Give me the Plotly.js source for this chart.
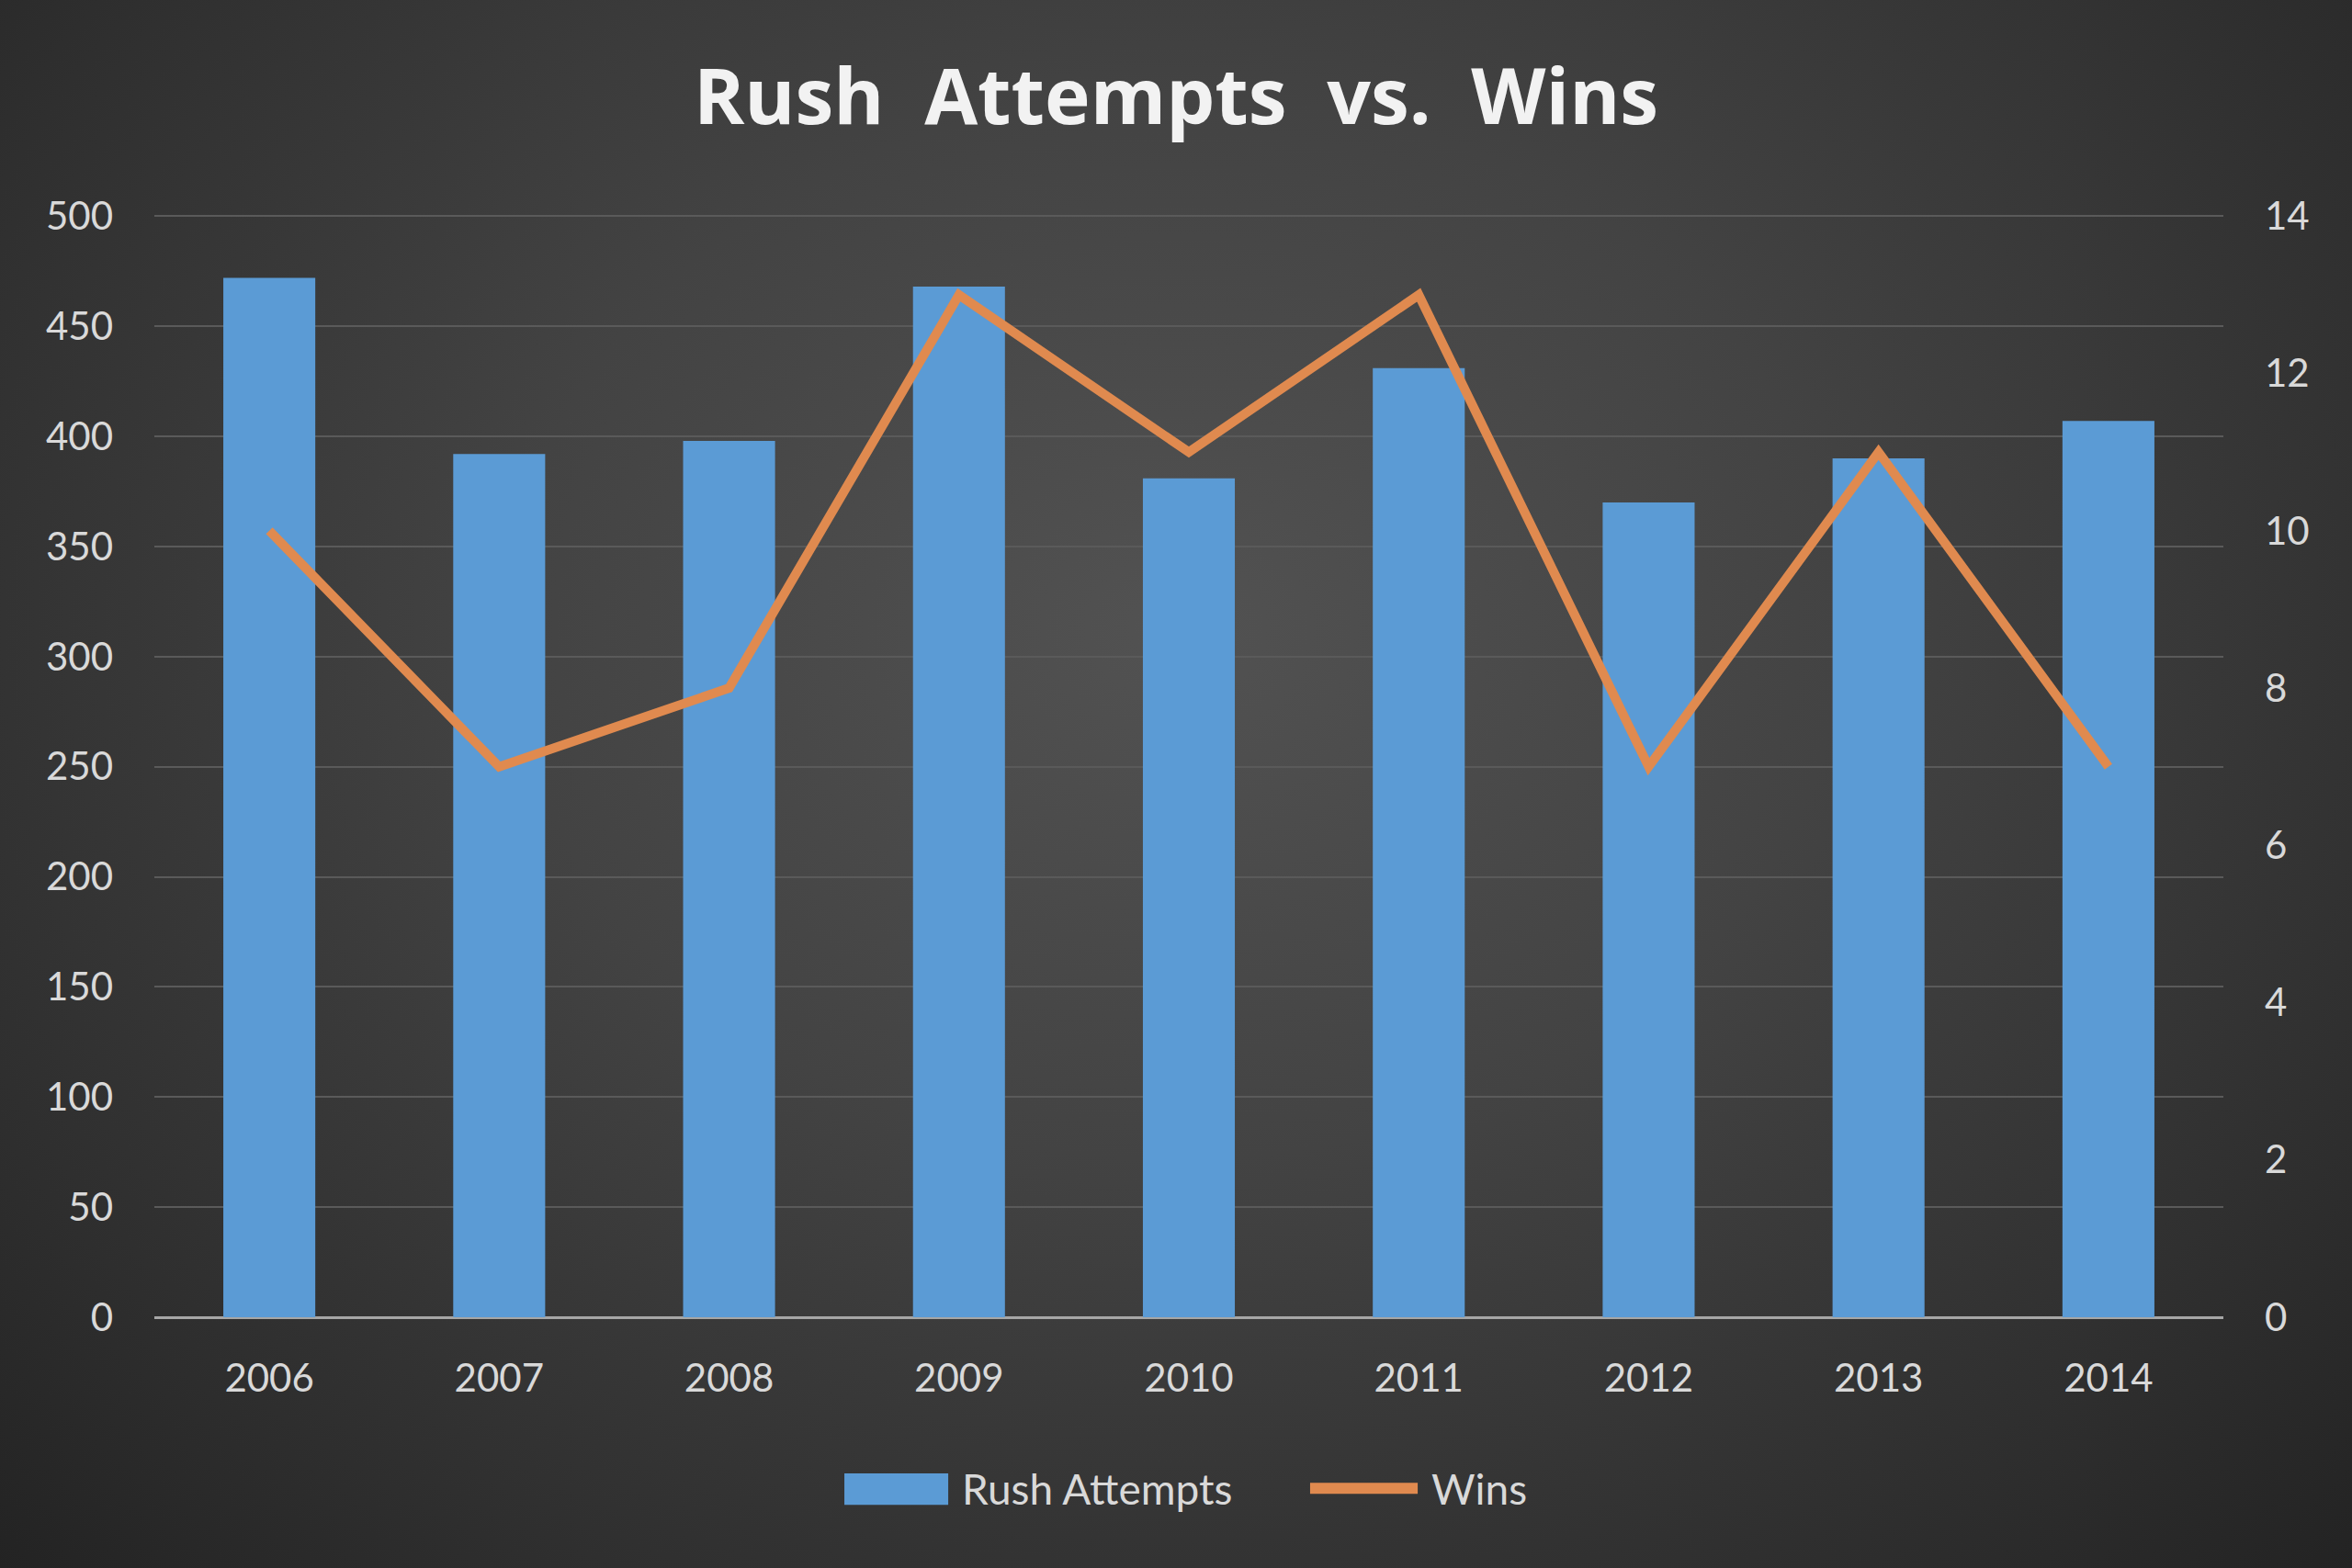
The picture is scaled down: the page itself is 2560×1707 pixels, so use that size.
<!DOCTYPE html>
<html>
<head>
<meta charset="utf-8">
<script src="https://cdn.plot.ly/plotly-3.0.1.min.js"></script>
<style>
  html, body { margin: 0; padding: 0; background: #2a2a2a; }
  #chart {
    width: 2560px; height: 1707px;
    background: radial-gradient(ellipse at 50% 40%, #525252 0%, #434343 40%, #2e2e2e 80%, #232323 100%);
  }
</style>
</head>
<body>
<div id="chart"></div>
<script>
// data
var years = ['2006', '2007', '2008', '2009', '2010', '2011', '2012', '2013', '2014']
var rushAttempts = [472, 392, 398, 468, 381, 431, 370, 390, 407]
var wins = [10, 7, 8, 13, 11, 13, 7, 11, 7]

var fontFamily = 'Lato, "Open Sans", sans-serif'
var textColor = '#d9d9d9'
var barColor = '#5b9bd5'
var lineColor = '#e08a4f'

var bars = {
    x: years,
    y: rushAttempts,
    type: 'bar',
    name: 'Rush Attempts',
    marker: { color: barColor },
    yaxis: 'y'
}

var line = {
    x: years,
    y: wins,
    type: 'scatter',
    mode: 'lines',
    name: 'Wins',
    line: { color: lineColor, width: 10 },
    yaxis: 'y2'
}

// plotly's bar swatch is tiny, so the legend is drawn by hand below the axis
var legendY = -0.155

var layout = {
    width: 2560,
    height: 1707,
    paper_bgcolor: 'rgba(0,0,0,0)',
    plot_bgcolor: 'rgba(0,0,0,0)',
    margin: { l: 168, r: 140, t: 233, b: 273 },
    bargap: 0.6,
    font: { family: fontFamily, color: textColor, size: 42 },
    title: {
        text: 'Rush\u00a0 Attempts\u00a0 vs.\u00a0 Wins',
        font: { family: '"Open Sans", Lato, sans-serif', size: 84, color: '#f2f2f2', weight: 'bold' },
        x: 0.5,
        xanchor: 'center',
        yref: 'container',
        y: 0.938,
        yanchor: 'middle'
    },
    xaxis: {
        type: 'category',
        showgrid: false,
        showline: false,
        zeroline: false,
        ticks: '',
        ticklabelstandoff: 38,
        tickfont: { size: 42, color: textColor }
    },
    yaxis: {
        range: [0, 501],
        tickvals: [0, 50, 100, 150, 200, 250, 300, 350, 400, 450, 500],
        showgrid: true,
        gridcolor: '#5a5a5a',
        gridwidth: 2,
        zeroline: true,
        zerolinecolor: '#a6a6a6',
        zerolinewidth: 3,
        showline: false,
        ticks: '',
        ticklabelstandoff: 44,
        tickfont: { size: 42, color: textColor }
    },
    yaxis2: {
        range: [0, 14.028],
        tickvals: [0, 2, 4, 6, 8, 10, 12, 14],
        overlaying: 'y',
        side: 'right',
        showgrid: false,
        zeroline: false,
        showline: false,
        ticks: '',
        ticklabelstandoff: 44,
        tickfont: { size: 42, color: textColor }
    },
    showlegend: false,
    shapes: [
        { type: 'rect', xref: 'paper', yref: 'paper', x0: 0.3335, x1: 0.3837, y0: -0.170, y1: -0.1415,
          fillcolor: barColor, line: { width: 0 } },
        { type: 'line', xref: 'paper', yref: 'paper', x0: 0.5586, x1: 0.6106, y0: legendY, y1: legendY,
          line: { color: lineColor, width: 12 } }
    ],
    annotations: [
        { text: 'Rush Attempts', xref: 'paper', yref: 'paper', x: 0.3894, y: legendY,
          xanchor: 'left', yanchor: 'middle', showarrow: false, font: { size: 46, color: textColor } },
        { text: 'Wins', xref: 'paper', yref: 'paper', x: 0.6163, y: legendY,
          xanchor: 'left', yanchor: 'middle', showarrow: false, font: { size: 46, color: textColor } }
    ]
}

Plotly.newPlot('chart', [bars, line], layout, { displayModeBar: false, staticPlot: true })
</script>
</body>
</html>
